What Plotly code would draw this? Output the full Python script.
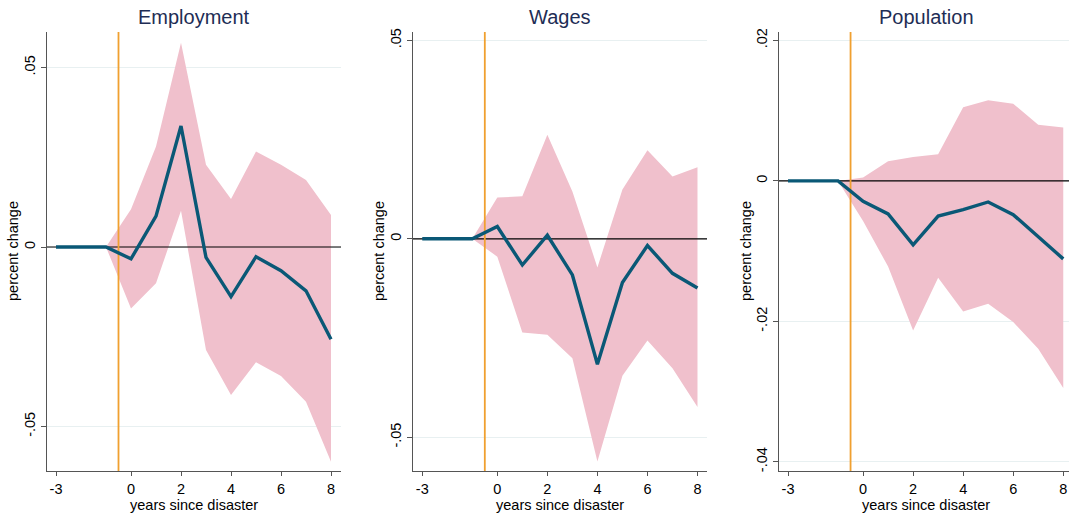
import plotly.graph_objects as go

# ---- data ----
years_pre = [-3, -2, -1]
years_post = [-1, 0, 1, 2, 3, 4, 5, 6, 7, 8]

titles = ["Employment", "Wages", "Population"]
x_title = "years since disaster"
y_title = "percent change"

emp_est = [0, 0, 0, -0.0033, 0.0086, 0.0337, -0.0029, -0.0138, -0.0027, -0.0066, -0.0122, -0.0257]
emp_hi = [0, 0.0105, 0.0280, 0.0569, 0.0229, 0.0134, 0.0266, 0.0229, 0.0187, 0.0089]
emp_lo = [0, -0.0171, -0.0101, 0.0101, -0.0287, -0.0412, -0.0321, -0.0359, -0.0431, -0.0598]

wag_est = [0, 0, 0, 0.0031, -0.0066, 0.0009, -0.0091, -0.0316, -0.0110, -0.0017, -0.0087, -0.0124]
wag_hi = [0, 0.0104, 0.0107, 0.0262, 0.0119, -0.0072, 0.0124, 0.0223, 0.0157, 0.0180]
wag_lo = [0, -0.0045, -0.0236, -0.0242, -0.0301, -0.0561, -0.0345, -0.0256, -0.0326, -0.0424]

pop_est = [0, 0, 0, -0.0029, -0.0047, -0.0091, -0.0050, -0.0041, -0.0030, -0.0048, -0.0080, -0.0111]
pop_hi = [0, 0.0005, 0.0028, 0.0034, 0.0038, 0.0105, 0.0115, 0.0110, 0.0080, 0.0076]
pop_lo = [0, -0.0057, -0.0122, -0.0213, -0.0138, -0.0186, -0.0175, -0.0201, -0.0239, -0.0295]

y_tickvals = [[-0.05, 0, 0.05], [-0.05, 0, 0.05], [-0.04, -0.02, 0, 0.02]]
y_ticktext = [["-.05", "0", ".05"], ["-.05", "0", ".05"], ["-.04", "-.02", "0", ".02"]]
x_tickvals = [-3, 0, 2, 4, 6, 8]
x_ticktext = ["-3", "0", "2", "4", "6", "8"]
event_x = -0.5

# ---- layout params ----
W, H = 1069, 514
x_domains = [[47 / W, 341 / W], [413 / W, 707 / W], [779 / W, 1.0]]
panel_centers_px = [194, 560, 926]
ytitle_x_px = [13, 379, 746]
y_domain = [1 - 471 / H, 1 - 32 / H]
y_ranges = [[-0.0624, 0.0599], [-0.0585, 0.0521], [-0.0413, 0.0212]]
x_ranges = [[-3.36, 8.4], [-3.37, 8.38], [-3.36, 8.23]]

band_color = "rgba(240,192,204,1)"
line_color = "#0a5876"
orange = "#f0a030"
font_family = "Liberation Sans, Arial, sans-serif"

fig = go.Figure()
series = [(emp_est, emp_hi, emp_lo), (wag_est, wag_hi, wag_lo), (pop_est, pop_hi, pop_lo)]
years_all = years_pre + years_post[1:]

for i, (est, hi, lo) in enumerate(series):
    xa = "x" if i == 0 else f"x{i+1}"
    ya = "y" if i == 0 else f"y{i+1}"
    fig.add_trace(go.Scatter(x=years_post, y=hi, mode="lines", line=dict(width=0, color=band_color),
                             xaxis=xa, yaxis=ya, showlegend=False, hoverinfo="skip"))
    fig.add_trace(go.Scatter(x=years_post, y=lo, mode="lines", line=dict(width=0, color=band_color),
                             fill="tonexty", fillcolor=band_color,
                             xaxis=xa, yaxis=ya, showlegend=False, hoverinfo="skip"))
    # zero line
    fig.add_trace(go.Scatter(x=x_ranges[i], y=[0, 0], mode="lines", line=dict(width=1.2, color="black"),
                             xaxis=xa, yaxis=ya, showlegend=False, hoverinfo="skip"))
    # event line
    fig.add_trace(go.Scatter(x=[event_x, event_x], y=y_ranges[i], mode="lines", line=dict(width=1.8, color=orange),
                             xaxis=xa, yaxis=ya, showlegend=False, hoverinfo="skip"))
    fig.add_trace(go.Scatter(x=years_all, y=est, mode="lines", line=dict(width=3.4, color=line_color),
                             xaxis=xa, yaxis=ya, showlegend=False))

    axx = dict(domain=x_domains[i], range=x_ranges[i], anchor=ya, tickvals=x_tickvals, ticktext=x_ticktext,
               automargin=False,
               showgrid=False, zeroline=False, showline=True, linecolor="#555555", linewidth=1.3,
               ticks="outside", ticklen=4, tickcolor="#555555", tickwidth=1,
               tickfont=dict(size=14.5, color="black", family=font_family))
    axy = dict(domain=y_domain, range=y_ranges[i], anchor=xa, tickvals=y_tickvals[i], ticktext=y_ticktext[i],
               automargin=False,
               tickangle=-90, showgrid=True, gridcolor="#e8f0f1", gridwidth=1, zeroline=False,
               showline=True, linecolor="#555555", linewidth=1.3,
               ticks="outside", ticklen=5, tickcolor="#555555", tickwidth=1,
               tickfont=dict(size=14.5, color="black", family=font_family))
    key = "" if i == 0 else str(i + 1)
    fig.layout["xaxis" + key] = axx
    fig.layout["yaxis" + key] = axy
    cx = panel_centers_px[i] / W
    fig.add_annotation(text=titles[i], x=cx, y=1 - 17 / H, xref="paper", yref="paper",
                       showarrow=False, xanchor="center", yanchor="middle",
                       font=dict(size=20, color="#1e2d55", family=font_family))
    fig.add_annotation(text=x_title, x=cx, y=1 - 505 / H, xref="paper", yref="paper",
                       showarrow=False, xanchor="center", yanchor="middle",
                       font=dict(size=14.5, color="black", family=font_family))
    fig.add_annotation(text=y_title, x=ytitle_x_px[i] / W, y=1 - 251 / H, xref="paper", yref="paper",
                       showarrow=False, xanchor="center", yanchor="middle", textangle=-90,
                       font=dict(size=14.5, color="black", family=font_family))

fig.update_layout(width=W, height=H, margin=dict(l=0, r=0, t=0, b=0, autoexpand=False),
                  template="none",
                  paper_bgcolor="white", plot_bgcolor="white")

fig.write_html("out.html", config={"displayModeBar": False},
               post_script="document.body.style.margin='0px';document.body.style.overflow='hidden';")
